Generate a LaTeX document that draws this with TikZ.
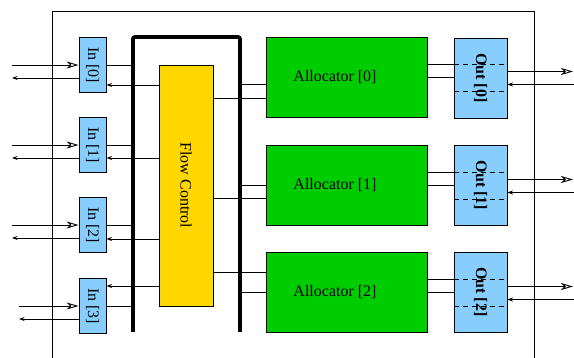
\documentclass[tikz,border=0pt]{standalone}
\usepackage{fontspec}
\setmainfont{Liberation Serif}
\usepackage{graphicx}
\usetikzlibrary{arrows.meta}
\definecolor{ltblue}{HTML}{87CEFF}
\definecolor{fcyellow}{HTML}{FFD700}
\definecolor{algreen}{HTML}{00CD00}
\begin{document}
\begin{tikzpicture}[x=1pt,y=-1pt,
  every node/.style={font=\fontsize{16}{19}\selectfont},
  thin line/.style={line width=0.9pt},
  inbox/.style={draw=black, line width=0.9pt, fill=ltblue, minimum width=27pt, minimum height=55pt, inner sep=0pt},
  outbox/.style={draw=black, line width=0.9pt, fill=ltblue, minimum width=53pt, minimum height=80pt, inner sep=0pt, font=\fontsize{16}{19}\selectfont\bfseries},
  fcbox/.style={draw=black, line width=0.9pt, fill=fcyellow, minimum width=54pt, minimum height=241pt, inner sep=0pt},
  allocbox/.style={draw=black, line width=0.9pt, fill=algreen, minimum width=161pt, minimum height=80pt, inner sep=0pt},
  datain/.style={line width=0.9pt, -{Stealth[open, length=12pt, width=7pt, inset=3.5pt]}},
  ctlout/.style={line width=0.9pt, -{Stealth[length=5.5pt, width=4pt]}},
  dashline/.style={line width=0.9pt, dash pattern=on 5pt off 4pt},
  thickwall/.style={line width=3.8pt, rounded corners=2pt}
]
\useasboundingbox (0,0) rectangle (574,358);
% outer frame
\coordinate (frBL) at (52,362);
\coordinate (frTL) at (52,11);
\coordinate (frTR) at (534,11);
\coordinate (frBR) at (534,362);
\draw[thin line] (frBL) -- (frTL) -- (frTR) -- (frBR);
% thick wall
\coordinate (thkBL) at (133,332);
\coordinate (thkTL) at (133,37);
\coordinate (thkTR) at (240,37);
\coordinate (thkBR) at (240,332);
\draw[thickwall] (thkBL) -- (thkTL) -- (thkTR) -- (thkBR);
% flow control
\node[fcbox] (fc) at (186,185.5) {\rotatebox{-90}{Flow Control}};
% inputs
\foreach \i/\yc/\xs/\yk in {0/65/12/85, 1/145/12/158, 2/225/12/239, 3/306/19/286}{
  \node[inbox] (in\i) at (92.5,\yc) {\rotatebox{-90}{In [\i]}};
  \coordinate (src\i) at (\xs,\yc);
  \coordinate (snk\i) at (\xs,\yc+13);
  \draw[datain] (src\i) -- (in\i.west);
  \draw[ctlout] (in\i.west |- snk\i) -- (snk\i);
  \draw[thin line] (in\i.east) -- (in\i.east -| thkTL);
  \draw[ctlout] (fc.west |- 0,\yk) -- (in\i.east |- 0,\yk);
}
% allocators
\foreach \i/\yc/\ya/\yb in {0/77.5/84/98, 1/185.5/185/198, 2/292/292/272}{
  \node[allocbox] (al\i) at (346.5,\yc) {};
  \node (alt\i) at (335,\yc) {Allocator [\i]};
  \draw[thin line] (thkTR |- 0,\ya) -- (al\i.west |- 0,\ya);
  \draw[thin line] (fc.east |- 0,\yb) -- (al\i.west |- 0,\yb);
}
% outputs
\foreach \i/\yc/\yu in {0/78/64, 1/185.5/172, 2/292/279}{
  \node[outbox] (out\i) at (480.5,\yc) {\rotatebox{-90}{Out [\i]}};
  \draw[thin line] (al\i.east |- 0,\yu) -- (out\i.west |- 0,\yu);
  \draw[thin line] (al\i.east |- 0,\yu+13.5) -- (out\i.west |- 0,\yu+13.5);
  \draw[dashline] (out\i.west |- 0,\yu) -- (out\i.east |- 0,\yu);
  \draw[dashline] (out\i.west |- 0,\yu+27.5) -- (out\i.east |- 0,\yu+27.5);
  \coordinate (dst\i) at (573,\yu+7.5);
  \coordinate (ret\i) at (575,\yu+20.5);
  \draw[datain] (out\i.east |- dst\i) -- (dst\i);
  \draw[ctlout] (ret\i) -- (out\i.east |- ret\i);
}
\end{tikzpicture}
\end{document}
